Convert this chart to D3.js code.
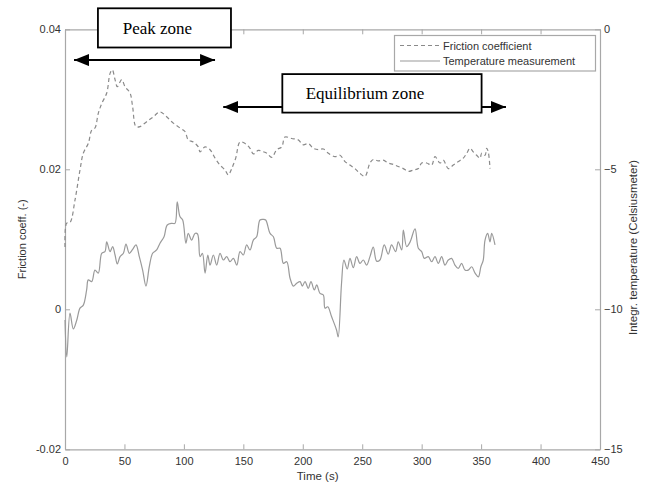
<!DOCTYPE html>
<html>
<head>
<meta charset="utf-8">
<script src="https://cdn.jsdelivr.net/npm/d3@7"></script>
<style>
  html, body { margin: 0; padding: 0; background: #fff; }
  svg { display: block; }
  .tick text { font-family: "Liberation Sans", Arial, sans-serif; font-size: 11px; fill: #333; }
</style>
</head>
<body>
<svg id="chart" width="649" height="483"></svg>
<script>
// Friction coefficient (dashed) — time in s, value in (-)
const fricTime = [0, 1.4, 4.2, 8.4, 12.6, 15.4, 19.6, 22.5, 25.2, 28.0, 30.9, 35.1, 37.9, 39.8, 42.1, 44.0,
  47.7, 50.5, 54.7, 56.9, 59.7, 63.1, 68.7, 74.3, 79.9, 85.5, 91.1, 96.7, 100.9, 103.7, 107.9, 112.1,
  113.6, 117.8, 122.0, 126.2, 130.4, 134.6, 137.4, 140.2, 143.6, 147.2, 151.4, 155.6, 158.4, 162.6,
  166.8, 169.7, 173.9, 178.1, 182.3, 185.0, 190.7, 196.2, 200.4, 204.6, 208.8, 213.1, 217.3, 221.5,
  227.1, 231.3, 235.5, 239.7, 243.9, 248.1, 252.3, 256.5, 259.3, 263.5, 267.7, 271.9, 276.1, 280.3,
  284.6, 288.8, 293.0, 297.2, 300.0, 304.2, 308.4, 311.2, 315.4, 318.2, 322.4, 326.6, 330.8, 335.0,
  337.9, 340.7, 343.4, 346.3, 349.1, 350.5, 353.3, 354.7, 356.0, 357.5];
const fricValue = [0.0089, 0.0123, 0.0124, 0.0156, 0.0199, 0.0223, 0.0237, 0.0256, 0.0259, 0.0280, 0.0294,
  0.0309, 0.0337, 0.0342, 0.0328, 0.0318, 0.0328, 0.0318, 0.0309, 0.0289, 0.0261, 0.0261, 0.0268, 0.0275,
  0.0282, 0.0275, 0.0266, 0.0259, 0.0254, 0.0242, 0.0239, 0.0232, 0.0225, 0.0232, 0.0228, 0.0216, 0.0206,
  0.0199, 0.0192, 0.0201, 0.0216, 0.0239, 0.0237, 0.0230, 0.0222, 0.0227, 0.0225, 0.0223, 0.0217, 0.0228,
  0.0232, 0.0246, 0.0244, 0.0242, 0.0235, 0.0237, 0.0230, 0.0228, 0.0229, 0.0223, 0.0218, 0.0220, 0.0211,
  0.0206, 0.0201, 0.0194, 0.0190, 0.0209, 0.0214, 0.0212, 0.0213, 0.0209, 0.0207, 0.0204, 0.0201, 0.0197,
  0.0199, 0.0201, 0.0209, 0.0209, 0.0206, 0.0218, 0.0209, 0.0213, 0.0201, 0.0206, 0.0211, 0.0216, 0.0223,
  0.0230, 0.0225, 0.0220, 0.0216, 0.0223, 0.0220, 0.0230, 0.0225, 0.0201];

// Integrated temperature (solid) — time in s, value in Celsiusmeter
const tempTime = [0, 1.5, 4.2, 7.0, 9.8, 12.6, 15.4, 18.2, 19.6, 22.5, 25.2, 28.0, 30.9, 33.6, 35.1, 37.9,
  40.1, 42.1, 44.0, 46.3, 49.1, 51.3, 54.1, 56.9, 59.7, 62.5, 65.3, 68.1, 70.9, 73.7, 77.1, 79.9, 83.3,
  86.0, 89.8, 92.5, 94.4, 96.7, 99.0, 101.7, 103.7, 106.5, 109.3, 111.5, 113.6, 115.6, 117.8, 120.1,
  122.0, 124.8, 127.6, 130.4, 133.2, 136.0, 138.8, 141.6, 144.5, 147.2, 150.0, 152.8, 155.6, 158.4,
  161.2, 164.0, 166.8, 168.8, 172.5, 175.3, 178.1, 180.9, 183.7, 186.5, 189.3, 192.1, 194.9, 197.7,
  199.6, 201.9, 204.6, 206.9, 209.7, 211.7, 214.5, 217.3, 218.7, 221.0, 224.2, 228.4, 229.8, 232.6,
  234.6, 237.4, 239.7, 242.5, 245.3, 248.1, 250.9, 253.7, 256.5, 259.3, 262.1, 264.9, 268.5, 271.9,
  274.7, 278.1, 280.3, 283.2, 284.6, 287.4, 290.2, 294.4, 297.2, 300.0, 302.2, 305.6, 308.4, 311.2,
  314.0, 316.8, 319.6, 322.4, 325.2, 328.0, 330.8, 333.6, 336.4, 339.2, 342.1, 344.9, 347.7, 349.8,
  351.8, 353.3, 355.5, 357.5, 358.9, 361.7];
const tempValue = [-10.38, -11.70, -10.14, -10.70, -10.40, -9.96, -9.85, -9.31, -8.95, -9.01, -8.60, -8.71,
  -8.00, -7.94, -7.59, -7.94, -7.76, -8.06, -8.38, -8.12, -8.00, -7.67, -8.00, -7.86, -7.70, -8.12, -8.60,
  -9.17, -8.48, -8.00, -7.88, -7.64, -7.41, -6.99, -6.93, -6.93, -6.16, -6.69, -6.81, -7.64, -7.29, -7.53,
  -7.29, -7.31, -8.12, -8.00, -8.71, -8.06, -8.42, -8.06, -8.42, -8.00, -8.24, -8.12, -8.30, -8.18, -8.42,
  -7.94, -8.06, -7.70, -7.88, -7.53, -7.41, -6.81, -6.79, -6.81, -7.29, -7.41, -7.82, -7.82, -8.36, -8.30,
  -8.89, -9.17, -9.07, -9.01, -9.17, -9.01, -9.25, -9.01, -9.31, -9.13, -9.43, -9.49, -9.96, -9.91, -10.26,
  -10.74, -10.99, -9.07, -8.24, -8.56, -8.18, -8.51, -8.12, -8.36, -8.24, -8.42, -8.12, -7.78, -8.28, -8.24,
  -7.70, -8.03, -7.70, -7.94, -7.59, -7.88, -7.17, -7.76, -7.60, -7.13, -7.82, -7.94, -8.18, -8.12, -8.30,
  -8.12, -8.36, -8.12, -8.42, -8.24, -8.18, -8.42, -8.54, -8.36, -8.60, -8.60, -8.48, -8.71, -8.84, -8.48,
  -8.24, -7.53, -7.29, -7.59, -7.29, -7.70];

// Axis ticks
const xTicks = [0, 50, 100, 150, 200, 250, 300, 350, 400, 450];
const leftTicks = [-0.02, 0, 0.02, 0.04];
const rightTicks = [-15, -10, -5, 0];
const leftTickLabels = ["-0.02", "0", "0.02", "0.04"];

// Legend entries
const legendLabels = ["Friction coefficient", "Temperature measurement"];

// Zone annotations (time span of the arrow, friction level of the arrow, label box extents)
const zoneNames = ["Peak zone", "Equilibrium zone"];
const zoneArrowFrom = [7.6, 133.1];
const zoneArrowTo = [126.2, 370.9];
const zoneArrowLevel = [0.0356, 0.0289];
const zoneBoxFrom = [27.7, 182.8];
const zoneBoxTo = [139.6, 350.4];
const zoneBoxTop = [0.0430, 0.0336];
const zoneBoxBottom = [0.0374, 0.0281];

const svg = d3.select("#chart");
const W = 649, H = 483;
const m = { left: 65, right: 49, top: 29.3, bottom: 33.7 };
const pw = W - m.left - m.right, ph = H - m.top - m.bottom;

const x = d3.scaleLinear().domain([0, 450]).range([m.left, m.left + pw]);
const yL = d3.scaleLinear().domain([-0.02, 0.04]).range([m.top + ph, m.top]);
const yR = d3.scaleLinear().domain([-15, 0]).range([m.top + ph, m.top]);

const axisColor = "#a8a8a8";
const textFont = '"Liberation Sans", Arial, sans-serif';

// Frame and ticks (MATLAB-style, inward ticks on all sides)
function styleAxis(g) {
  g.select(".domain").attr("stroke", axisColor).attr("stroke-width", 1.2);
  g.selectAll(".tick line").attr("stroke", axisColor).attr("stroke-width", 1);
}

svg.append("g").attr("transform", `translate(0,${m.top + ph})`)
  .call(d3.axisBottom(x).tickValues(xTicks).tickSize(-5).tickSizeOuter(0).tickPadding(8).tickFormat(d3.format("d")))
  .call(styleAxis);
svg.append("g").attr("transform", `translate(0,${m.top})`)
  .call(d3.axisTop(x).tickValues(xTicks).tickSize(-5).tickSizeOuter(0).tickFormat(""))
  .call(styleAxis);
svg.append("g").attr("transform", `translate(${m.left},0)`)
  .call(d3.axisLeft(yL).tickValues(leftTicks).tickSize(-5).tickSizeOuter(0).tickPadding(4)
    .tickFormat((d, i) => leftTickLabels[i]))
  .call(styleAxis);
svg.append("g").attr("transform", `translate(${m.left + pw},0)`)
  .call(d3.axisRight(yR).tickValues(rightTicks).tickSize(-5).tickSizeOuter(0).tickPadding(4).tickFormat(d3.format("d")))
  .call(styleAxis);

// Axis titles
svg.append("text").attr("x", x(212.5)).attr("y", 480)
  .attr("text-anchor", "middle").attr("font-family", textFont).attr("font-size", 11.5).attr("fill", "#333")
  .text("Time (s)");
svg.append("text").attr("transform", `translate(26,${yL(0.01)}) rotate(-90)`)
  .attr("text-anchor", "middle").attr("font-family", textFont).attr("font-size", 11).attr("fill", "#333")
  .text("Friction coeff. (-)");
svg.append("text").attr("transform", `translate(637,335) rotate(-90)`)
  .attr("text-anchor", "start").attr("font-family", textFont).attr("font-size", 11.5).attr("fill", "#333")
  .text("Integr. temperature (Celsiusmeter)");

// Series
const fricData = fricTime.map((t, i) => [t, fricValue[i]]);
const tempData = tempTime.map((t, i) => [t, tempValue[i]]);

svg.append("path").datum(tempData)
  .attr("fill", "none").attr("stroke", "#9a9a9a").attr("stroke-width", 1.2)
  .attr("d", d3.line().x(d => x(d[0])).y(d => yR(d[1])).curve(d3.curveCatmullRom.alpha(0.5)));

svg.append("path").datum(fricData)
  .attr("fill", "none").attr("stroke", "#8a8a8a").attr("stroke-width", 1.2).attr("stroke-dasharray", "4,3")
  .attr("d", d3.line().x(d => x(d[0])).y(d => yL(d[1])).curve(d3.curveCatmullRom.alpha(0.5)));

// Legend
const lg = svg.append("g");
lg.append("rect").attr("x", 394.5).attr("y", 35.5).attr("width", 201).attr("height", 35.5)
  .attr("fill", "#fff").attr("stroke", axisColor).attr("stroke-width", 1.2);
const legendStyles = [{ c: "#8a8a8a", dash: "4,3" }, { c: "#9a9a9a", dash: null }];
legendLabels.forEach((lab, i) => {
  const yy = 45.5 + i * 15.5;
  lg.append("line").attr("x1", 400).attr("x2", 440).attr("y1", yy).attr("y2", yy)
    .attr("stroke", legendStyles[i].c).attr("stroke-width", 1.2)
    .attr("stroke-dasharray", legendStyles[i].dash);
  lg.append("text").attr("x", 443).attr("y", yy + 4).attr("font-family", textFont)
    .attr("font-size", 11).attr("fill", "#333").text(lab);
});

// Zone annotations: double-headed arrows with boxed labels
const defs = svg.append("defs");
defs.append("marker").attr("id", "head").attr("viewBox", "0 0 15 12")
  .attr("refX", 15).attr("refY", 6).attr("markerWidth", 15).attr("markerHeight", 12)
  .attr("markerUnits", "userSpaceOnUse").attr("orient", "auto-start-reverse")
  .append("path").attr("d", "M0,0 L15,6 L0,12 Z").attr("fill", "#000");

zoneNames.forEach((name, i) => {
  const g = svg.append("g");
  g.append("line")
    .attr("x1", x(zoneArrowFrom[i])).attr("x2", x(zoneArrowTo[i]))
    .attr("y1", yL(zoneArrowLevel[i])).attr("y2", yL(zoneArrowLevel[i]))
    .attr("stroke", "#000").attr("stroke-width", 2)
    .attr("marker-start", "url(#head)").attr("marker-end", "url(#head)");
  const bx0 = x(zoneBoxFrom[i]), bx1 = x(zoneBoxTo[i]);
  const by0 = yL(zoneBoxTop[i]), by1 = yL(zoneBoxBottom[i]);
  g.append("rect").attr("x", bx0).attr("y", by0).attr("width", bx1 - bx0).attr("height", by1 - by0)
    .attr("fill", "#fff").attr("stroke", "#000").attr("stroke-width", 1.8);
  g.append("text").attr("x", (bx0 + bx1) / 2 - (i === 0 ? 7 : 17)).attr("y", (by0 + by1) / 2 + 6)
    .attr("text-anchor", "middle").attr("font-family", '"Liberation Serif", "Times New Roman", serif')
    .attr("font-size", 17).attr("fill", "#000").text(name);
});
</script>
</body>
</html>
